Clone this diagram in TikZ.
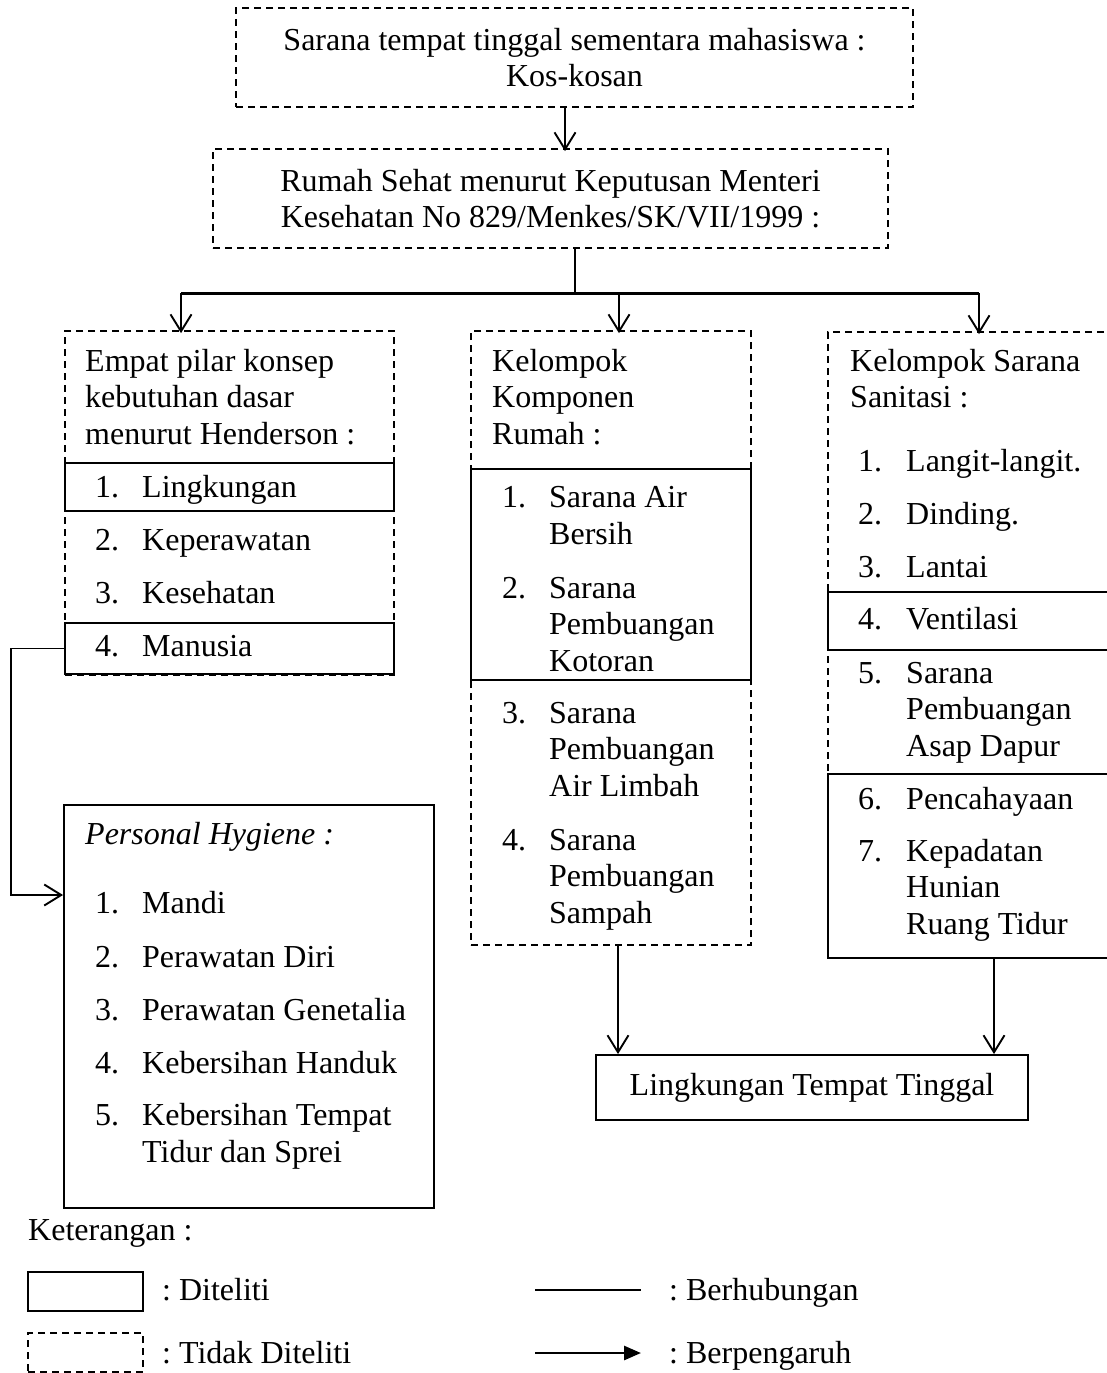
\documentclass[tikz,border=0pt]{standalone}
\usepackage{fontspec}
\setmainfont{Liberation Serif}
\usetikzlibrary{arrows.meta}
\frenchspacing
\tikzset{
 dbox/.style={draw, line width=1.7pt, dash pattern=on 7pt off 5pt, rectangle, inner sep=0pt},
 sbox/.style={draw, line width=1.9pt, rectangle, inner sep=0pt},
 conn/.style={line width=1.9pt},
 hubline/.style={line width=3pt},
 arr/.style={line width=1.9pt, -{Straight Barb[length=17pt,width=21pt]}},
 legarr/.style={line width=2.8pt, -{Triangle[length=17pt,width=14pt]}},
 tx/.style={inner sep=0pt, anchor=base west},
}
\begin{document}
\begin{tikzpicture}[x=1pt,y=-1pt, font=\fontsize{32}{36.5}\selectfont\frenchspacing]
\useasboundingbox (0,0) rectangle (1107,1373);

% top boxes
\node[dbox, minimum width=677pt, minimum height=99pt, align=center] (kos) at (574.5,57.5)
  {Sarana tempat tinggal sementara mahasiswa :\\Kos-kosan};
\node[dbox, minimum width=675pt, minimum height=99pt, align=center] (rumah) at (550.5,198.5)
  {Rumah Sehat menurut Keputusan Menteri\\Kesehatan No 829/Menkes/SK/VII/1999 :};

% left column
\node[dbox, minimum width=329pt, minimum height=344pt] (hend) at (229.5,503) {};
\node[sbox, minimum width=329pt, minimum height=48pt] (hl1) at (229.5,487) {};
\node[sbox, minimum width=329pt, minimum height=51pt] (hl4) at (229.5,648.5) {};
\node[tx] (h1) at (85,371) {Empat pilar konsep};
\node[tx] (h2) at (85,407) {kebutuhan dasar};
\node[tx] (h3) at (85,444) {menurut Henderson :};
\node[tx] (hn1) at (95,497) {1.};  \node[tx] (ht1) at (142,497) {Lingkungan};
\node[tx] (hn2) at (95,550) {2.};  \node[tx] (ht2) at (142,550) {Keperawatan};
\node[tx] (hn3) at (95,603) {3.};  \node[tx] (ht3) at (142,603) {Kesehatan};
\node[tx] (hn4) at (95,656) {4.};  \node[tx] (ht4) at (142,656) {Manusia};

% personal hygiene
\node[sbox, minimum width=370pt, minimum height=403pt] (ph) at (249,1006.5) {};
\node[tx] (p0) at (85,844) {\itshape Personal Hygiene :};
\node[tx] (pn1) at (95,913) {1.};  \node[tx] (pt1) at (142,913) {Mandi};
\node[tx] (pn2) at (95,967) {2.};  \node[tx] (pt2) at (142,967) {Perawatan Diri};
\node[tx] (pn3) at (95,1020) {3.}; \node[tx] (pt3) at (142,1020) {Perawatan Genetalia};
\node[tx] (pn4) at (95,1073) {4.}; \node[tx] (pt4) at (142,1073) {Kebersihan Handuk};
\node[tx] (pn5) at (95,1125) {5.}; \node[tx] (pt5) at (142,1125) {Kebersihan Tempat};
\node[tx] (pt5b) at (142,1162) {Tidur dan Sprei};

% middle column
\node[dbox, minimum width=280pt, minimum height=614pt] (komp) at (611,638) {};
\node[sbox, minimum width=280pt, minimum height=211pt] (ks12) at (611,574.5) {};
\node[tx] (k1) at (492,371) {Kelompok};
\node[tx] (k2) at (492,407) {Komponen};
\node[tx] (k3) at (492,444) {Rumah :};
\node[tx] (kn1) at (502,507) {1.}; \node[tx] (kt1) at (549,507) {Sarana Air};
\node[tx] (kt1b) at (549,544) {Bersih};
\node[tx] (kn2) at (502,598) {2.}; \node[tx] (kt2) at (549,598) {Sarana};
\node[tx] (kt2b) at (549,634.5) {Pembuangan};
\node[tx] (kt2c) at (549,671) {Kotoran};
\node[tx] (kn3) at (502,723) {3.}; \node[tx] (kt3) at (549,723) {Sarana};
\node[tx] (kt3b) at (549,759.5) {Pembuangan};
\node[tx] (kt3c) at (549,796) {Air Limbah};
\node[tx] (kn4) at (502,850) {4.}; \node[tx] (kt4) at (549,850) {Sarana};
\node[tx] (kt4b) at (549,886.5) {Pembuangan};
\node[tx] (kt4c) at (549,923) {Sampah};

% right column
\node[dbox, minimum width=287pt, minimum height=626pt] (san) at (971.5,645) {};
\node[sbox, minimum width=287pt, minimum height=58pt] (sv) at (971.5,621) {};
\node[sbox, minimum width=287pt, minimum height=184pt] (s67) at (971.5,866) {};
\node[tx] (s1) at (850,371) {Kelompok Sarana};
\node[tx] (s2) at (850,407) {Sanitasi :};
\node[tx] (sn1) at (858,471) {1.}; \node[tx] (st1) at (906,471) {Langit-langit.};
\node[tx] (sn2) at (858,524) {2.}; \node[tx] (st2) at (906,524) {Dinding.};
\node[tx] (sn3) at (858,577) {3.}; \node[tx] (st3) at (906,577) {Lantai};
\node[tx] (sn4) at (858,629) {4.}; \node[tx] (st4) at (906,629) {Ventilasi};
\node[tx] (sn5) at (858,683) {5.}; \node[tx] (st5) at (906,683) {Sarana};
\node[tx] (st5b) at (906,719.5) {Pembuangan};
\node[tx] (st5c) at (906,756) {Asap Dapur};
\node[tx] (sn6) at (858,809) {6.}; \node[tx] (st6) at (906,809) {Pencahayaan};
\node[tx] (sn7) at (858,861) {7.}; \node[tx] (st7) at (906,861) {Kepadatan};
\node[tx] (st7b) at (906,897.5) {Hunian};
\node[tx] (st7c) at (906,934) {Ruang Tidur};

% result box
\node[sbox, minimum width=432pt, minimum height=65pt] (ltt) at (812,1087.5) {Lingkungan Tempat Tinggal};

% connectors
\coordinate (c1) at (565,0);
\coordinate (hub) at (575,293);
\coordinate (hL) at (181,293);
\coordinate (hM) at (619,293);
\coordinate (hR) at (979,293);
\coordinate (c2) at (618,0);
\coordinate (c3) at (994,0);
\coordinate (bend) at (11,895);

\draw[arr] (kos.south -| c1) -- ([yshift=-3pt]rumah.north -| c1);
\draw[conn] (rumah.south -| hub) -- (hub);
\draw[hubline] (hL) -- (hR);
\draw[arr] (hL) -- ([yshift=-3pt]hend.north -| hL);
\draw[arr] (hM) -- ([yshift=-3pt]komp.north -| hM);
\draw[arr] (hR) -- ([yshift=-3pt]san.north -| hR);
\draw[arr] (hl4.west) -| (bend) -- (ph.west |- bend);
\draw[arr] (komp.south -| c2) -- (ltt.north -| c2);
\draw[arr] (s67.south -| c3) -- (ltt.north -| c3);

% legend
\node[tx] (ket) at (28,1240) {Keterangan :};
\node[sbox, minimum width=115pt, minimum height=39pt] (lgs) at (85.5,1291.5) {};
\node[dbox, minimum width=115pt, minimum height=39pt] (lgd) at (85.5,1352.5) {};
\node[tx] (lgst) at (162,1300) {: Diteliti};
\node[tx] (lgdt) at (162,1363) {: Tidak Diteliti};
\coordinate (la1) at (535,1290);
\coordinate (lb1) at (641,1290);
\coordinate (la2) at (535,1353);
\coordinate (lb2) at (641,1353);
\draw[conn] (la1) -- (lb1);
\draw[legarr] (la2) -- (lb2);
\node[tx] (lgh) at (669,1300) {: Berhubungan};
\node[tx] (lgp) at (669,1363) {: Berpengaruh};
\end{tikzpicture}
\end{document}
